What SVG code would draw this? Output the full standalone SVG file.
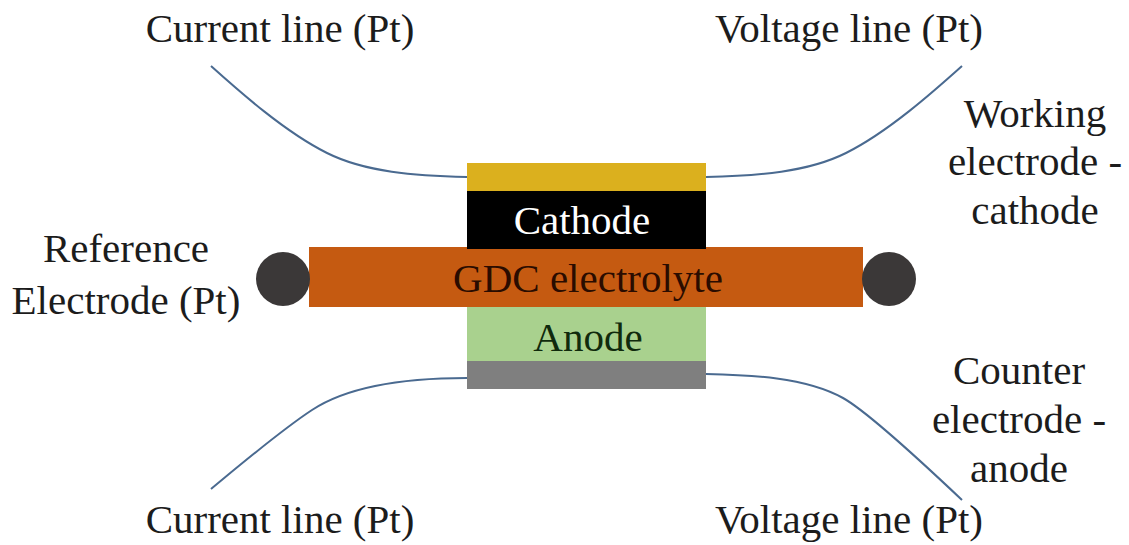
<svg xmlns="http://www.w3.org/2000/svg" width="1129" height="545" viewBox="0 0 1129 545">
<style>
text{font-family:"Liberation Serif","Times New Roman",serif;font-size:41px;fill:#1c1c1c;text-anchor:middle}
.w{stroke:#4a6a90;stroke-width:2;fill:none}
.dot{fill:#3b3838}
</style>
<rect width="1129" height="545" fill="#fff"/>
<g id="connectors">
<path class="w" d="M211 66C240 92 285 132 327 153C365 172 415 176 467 177"/>
<path class="w" d="M962 66C933 92 888 132 846 153C808 172 758 176 706 177"/>
<path class="w" d="M211 489C240 465 280 431 312 410C350 385 410 378 467 378"/>
<path class="w" d="M706 374C750 375 805 377 843 398C868 412 925 465 962 500"/>
</g>
<g id="current-collector-top"><rect x="467" y="163" width="239" height="28" fill="#dbb01e"/></g>
<g id="electrolyte"><rect x="309" y="247" width="554" height="60" fill="#c55a11"/><text x="588" y="292" style="fill:#2a0c00">GDC electrolyte</text></g>
<g id="cathode"><rect x="467" y="191" width="239" height="58" fill="#000"/><text x="582" y="234" style="fill:#fff">Cathode</text></g>
<g id="anode"><rect x="467" y="307" width="239" height="54" fill="#a9d18e"/><text x="588" y="351" style="fill:#102a0c">Anode</text></g>
<g id="current-collector-bottom"><rect x="467" y="361" width="239" height="28" fill="#7f7f7f"/></g>
<g id="ref-left"><circle class="dot" cx="283" cy="279" r="27"/></g>
<g id="ref-right"><circle class="dot" cx="889" cy="279" r="27"/></g>
<g id="label-current-top"><text x="280" y="42">Current line (Pt)</text></g>
<g id="label-voltage-top"><text x="849" y="42">Voltage line (Pt)</text></g>
<g id="label-working"><text x="1035" y="127">Working</text><text x="1035" y="175">electrode -</text><text x="1035" y="224">cathode</text></g>
<g id="label-reference"><text x="126" y="262">Reference</text><text x="126" y="314">Electrode (Pt)</text></g>
<g id="label-counter"><text x="1019" y="384">Counter</text><text x="1019" y="433">electrode -</text><text x="1019" y="482">anode</text></g>
<g id="label-current-bottom"><text x="280" y="533">Current line (Pt)</text></g>
<g id="label-voltage-bottom"><text x="849" y="533">Voltage line (Pt)</text></g>
</svg>
